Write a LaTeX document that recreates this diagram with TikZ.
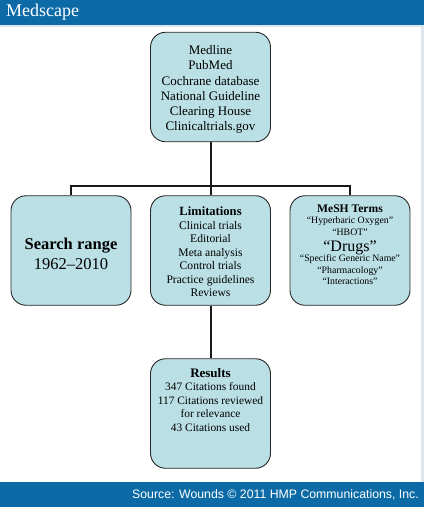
\documentclass[tikz,border=0pt]{standalone}
\usepackage{fontspec}
\usepackage{xcolor}
\setmainfont{Liberation Serif}
\newfontfamily\footerfont{Liberation Sans}
\usetikzlibrary{positioning}
\definecolor{bannerblue}{HTML}{0C6BA6}
\definecolor{boxteal}{HTML}{BADFE4}
\definecolor{edgegray}{HTML}{DCE6EE}
\tikzset{
    stagebox/.style={draw=black!85, line width=0.9pt, fill=boxteal, rounded corners=15pt,
        minimum width=120pt, minimum height=109.5pt, align=center, inner sep=0pt},
    link/.style={line width=2pt, black!90}
}
\newcommand{\fsz}[2]{\fontsize{#1}{#2}\selectfont}

\begin{document}
\begin{tikzpicture}[x=1pt, y=-1pt]
    \useasboundingbox (0,0) rectangle (424,507);

    % 1. Dải màu đầu trang và cuối trang
    \fill[edgegray] (421,25) rectangle (424,482);
    \fill[edgegray] (0,25) rectangle (424,27);
    \fill[bannerblue] (0,0) rectangle (424,25);
    \fill[bannerblue] (0,482) rectangle (424,507);
    \node[anchor=west, text=white, inner sep=0pt, font=\fsz{18}{18}] (brand) at (6,12.5) {Medscape};
    \node[anchor=east, text=white, inner sep=0pt, font=\footerfont\fsz{12.3}{14}] (source) at (419,495) {Source: Wounds © 2011 HMP Communications, Inc.};

    % 2. Các hộp
    \node[stagebox, font=\fsz{13}{15.2}] (sources) at (210.5,87) {\rule{0pt}{14pt}Medline\\PubMed\\Cochrane database\\National Guideline\\Clearing House\\Clinicaltrials.gov};
    \node[stagebox, font=\fsz{16.5}{20}] (range) at (71,250.5) {\rule{0pt}{17.5pt}\textbf{Search range}\\1962--2010};
    \node[stagebox, font=\fsz{11.6}{13.5}] (limits) at (210.5,250.5) {\rule{0pt}{11.5pt}{\fsz{12.6}{13.5}\textbf{Limitations}}\\Clinical trials\\Editorial\\Meta analysis\\Control trials\\Practice guidelines\\Reviews};
    \node[stagebox, font=\fsz{9.8}{11.6}] (terms) at (350,250.5) {{\fsz{11.6}{11.6}\textbf{MeSH Terms}}\\``Hyperbaric Oxygen''\\``HBOT''\\[4pt]{\fsz{16}{15}``Drugs''}\\[-1pt]``Specific Generic Name''\\``Pharmacology''\\``Interactions''\\\mbox{}};
    \node[stagebox, font=\fsz{11.4}{13.5}] (results) at (210.5,413.5) {{\fsz{13}{13.5}\textbf{Results}}\\347 Citations found\\117 Citations reviewed\\for relevance\\43 Citations used\\\rule{0pt}{26pt}};

    % 3. Các đường nối
    \coordinate (junction) at (210.5,186);
    \draw[link] (sources) -- (limits);
    \draw[link] (range.north) |- (junction);
    \draw[link] (terms.north) |- (junction);
    \draw[link] (limits) -- (results);
\end{tikzpicture}
\end{document}
